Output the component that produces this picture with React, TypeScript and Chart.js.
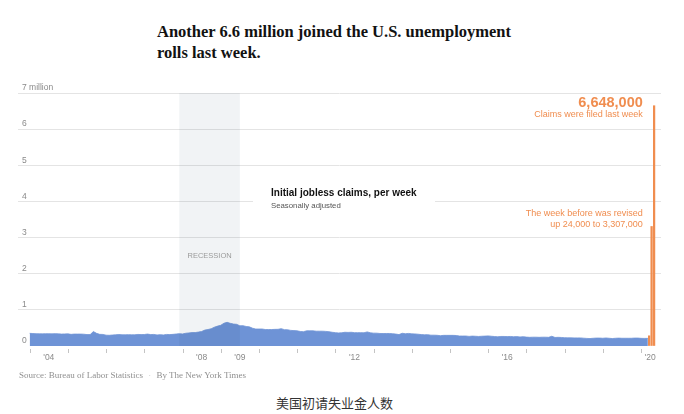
import React, { useEffect, useRef } from 'react';
import { Chart, registerables } from 'chart.js';

Chart.register(...registerables);

// ---- Data (initial jobless claims, thousands, monthly, seasonally adjusted) ----
const firstYear = 2004;
const claims2004 = [350, 345, 340, 338, 336, 340, 340, 336, 342, 336, 330, 334];
const claims2005 = [336, 322, 330, 330, 330, 326, 316, 316, 400, 350, 322, 320];
const claims2006 = [300, 296, 304, 310, 318, 310, 310, 314, 310, 310, 320, 316];
const claims2007 = [318, 330, 316, 320, 306, 314, 306, 320, 316, 322, 332, 342];
const claims2008 = [334, 352, 362, 372, 372, 386, 402, 440, 456, 478, 520, 550];
const claims2009 = [572, 630, 655, 628, 608, 600, 560, 562, 540, 530, 492, 470];
const claims2010 = [470, 470, 456, 456, 456, 460, 462, 480, 452, 450, 432, 426];
const claims2011 = [420, 402, 396, 420, 420, 420, 410, 410, 410, 404, 396, 380];
const claims2012 = [370, 362, 366, 380, 376, 380, 370, 370, 370, 366, 390, 366];
const claims2013 = [356, 355, 346, 345, 346, 346, 340, 330, 316, 352, 340, 348];
const claims2014 = [336, 334, 326, 316, 310, 314, 300, 300, 296, 286, 294, 294];
const claims2015 = [294, 294, 290, 276, 276, 276, 266, 274, 270, 264, 270, 274];
const claims2016 = [280, 270, 262, 256, 264, 264, 260, 264, 256, 260, 250, 258];
const claims2017 = [246, 240, 244, 244, 240, 244, 244, 240, 270, 236, 240, 236];
const claims2018 = [230, 226, 226, 224, 224, 224, 216, 210, 206, 214, 220, 220];
const claims2019 = [214, 222, 214, 206, 214, 218, 214, 214, 214, 214, 220, 220];
const claims2020 = [212, 210, 211];
const yearlyClaims = [
  claims2004, claims2005, claims2006, claims2007, claims2008, claims2009, claims2010,
  claims2011, claims2012, claims2013, claims2014, claims2015, claims2016, claims2017,
  claims2018, claims2019, claims2020,
];
// last blue value is the week of March 7, 2020
const lastBlueDate = 2020 + 66 / 366;

// latest weeks (highlighted)
const orangeWeeks = ['Mar 14', 'Mar 21', 'Mar 28'];
const orangeClaims = [282000, 3307000, 6648000];

const recession = [2007 + 11 / 12, 2009 + 6 / 12];

const yTicks = [0, 1, 2, 3, 4, 5, 6, 7];
const xTickYears = [2004, 2005, 2006, 2007, 2008, 2009, 2010, 2011, 2012, 2013, 2014, 2015, 2016, 2017, 2018, 2019, 2020];
const xLabels = ["'04", "'08", "'09", "'12", "'16", "'20"];
const xLabelAt = [2004.5, 2008.5, 2009.5, 2012.5, 2016.5, 2020.24];

const BLUE = '#6e93d6';
const ORANGE = '#f08d4f';
const SANS = '"Liberation Sans", Arial, sans-serif';

function buildBlue() {
  const pts: { x: number; y: number }[] = [];
  yearlyClaims.forEach((arr, yi) => {
    arr.forEach((v, m) => {
      const isLast = yi === yearlyClaims.length - 1 && m === arr.length - 1;
      pts.push({ x: isLast ? lastBlueDate : firstYear + yi + m / 12, y: v * 1000 });
    });
  });
  return pts;
}

const overlay = {
  id: 'overlay',
  afterDatasetsDraw(chart: any) {
    const { ctx, scales, chartArea } = chart;
    const x = scales.x, y = scales.y, xw = scales.xw;
    ctx.save();
    // recession band
    const x0 = x.getPixelForValue(recession[0]);
    const x1 = x.getPixelForValue(recession[1]);
    const yTop = y.getPixelForValue(7e6);
    const yBot = y.getPixelForValue(0);
    ctx.fillStyle = 'rgba(25,45,85,0.06)';
    ctx.fillRect(x0, yTop, x1 - x0, yBot - yTop);
    ctx.fillStyle = '#9a9a9a';
    ctx.font = `7.5px ${SANS}`;
    ctx.textAlign = 'center';
    ctx.textBaseline = 'middle';
    ctx.fillText('RECESSION', (x0 + x1) / 2, y.getPixelForValue(2.5e6));

    // x tick marks
    ctx.strokeStyle = '#c4c4c4';
    ctx.lineWidth = 1;
    xTickYears.forEach((yr) => {
      const px = Math.round(x.getPixelForValue(yr)) + 0.5;
      ctx.beginPath();
      ctx.moveTo(px, chartArea.bottom + 3);
      ctx.lineTo(px, chartArea.bottom + 7);
      ctx.stroke();
    });
    // x labels
    ctx.fillStyle = '#8a8a8a';
    ctx.font = `8.5px ${SANS}`;
    xLabels.forEach((t, i) => {
      ctx.fillText(t, x.getPixelForValue(xLabelAt[i]), chartArea.bottom + 12);
    });

    // series label with white box
    const y4 = y.getPixelForValue(4e6);
    ctx.fillStyle = '#ffffff';
    ctx.fillRect(253, y4 - 16, 182, 26);
    ctx.textAlign = 'left';
    ctx.fillStyle = '#121212';
    ctx.font = `bold 10px ${SANS}`;
    ctx.fillText('Initial jobless claims, per week', 271, y4 - 8);
    ctx.fillStyle = '#555555';
    ctx.font = `7.8px ${SANS}`;
    ctx.fillText('Seasonally adjusted', 271, y4 + 4);

    // orange annotations
    const ax = xw.getPixelForValue(2) - 10.5;
    const yLast = y.getPixelForValue(orangeClaims[2]);
    const yPrev = y.getPixelForValue(orangeClaims[1]);
    ctx.textAlign = 'right';
    ctx.fillStyle = ORANGE;
    ctx.font = `bold 14.5px ${SANS}`;
    ctx.fillText('6,648,000', ax, yLast - 3);
    ctx.font = `9px ${SANS}`;
    ctx.fillText('Claims were filed last week', ax, yLast + 8.5);
    ctx.fillText('The week before was revised', ax, yPrev - 12.5);
    ctx.fillText('up 24,000 to 3,307,000', ax, yPrev - 2);
    ctx.restore();
  },
};

function ClaimsChart() {
  const ref = useRef<HTMLCanvasElement>(null);
  useEffect(() => {
    if (!ref.current) return;
    const chart = new Chart(ref.current, {
      type: 'bar',
      data: {
        datasets: [
          {
            type: 'line',
            label: 'Initial claims',
            data: buildBlue(),
            xAxisID: 'x',
            yAxisID: 'y',
            borderColor: BLUE,
            borderWidth: 0.8,
            backgroundColor: BLUE,
            fill: 'origin',
            pointRadius: 0,
            tension: 0,
          } as any,
          {
            type: 'bar',
            label: 'Latest weeks',
            data: orangeClaims.map((v, i) => ({ x: i, y: v })),
            xAxisID: 'xw',
            yAxisID: 'y',
            backgroundColor: ORANGE,
            barThickness: 1.6,
          } as any,
        ],
      },
      options: {
        responsive: false,
        animation: false,
        events: [],
        layout: { padding: { left: 18, right: 23, top: 13, bottom: 24 } },
        plugins: { legend: { display: false }, tooltip: { enabled: false } },
        scales: {
          x: {
            type: 'linear',
            display: false,
            offset: false,
            min: 2003.694,
            max: 2020.524,
          },
          xw: {
            type: 'linear',
            display: false,
            offset: false,
            min: -252.12,
            max: 5.08,
          },
          y: {
            type: 'linear',
            min: 0,
            max: 7e6,
            afterFit: (s: any) => { s.width = 0; },
            afterBuildTicks: (s: any) => { s.ticks = yTicks.map((v) => ({ value: v * 1e6 })); },
            border: { display: false },
            grid: {
              drawTicks: false,
              color: (c: any) => (c.tick && c.tick.value === 0 ? 'rgba(0,0,0,0)' : '#e4e4e4'),
              lineWidth: 1,
            },
            ticks: {
              mirror: true,
              padding: 4,
              labelOffset: -5,
              color: '#8a8a8a',
              font: { family: SANS, size: 8.5 },
              callback: (v: any) => (v === 7e6 ? '7 million' : String(v / 1e6)),
            },
          },
        },
      },
      plugins: [overlay],
    });
    return () => chart.destroy();
  }, []);
  return (
    <canvas
      ref={ref}
      width={684}
      height={290}
      style={{ position: 'absolute', left: 0, top: 80, width: 684, height: 290 }}
    />
  );
}

export default function App() {
  return (
    <div style={{ position: 'absolute', left: 0, top: 0, width: 684, height: 414, background: '#fff', overflow: 'hidden' }}>
      <div
        style={{
          position: 'absolute', left: 157, top: 21, width: 420,
          fontFamily: '"Liberation Serif", "Times New Roman", serif', fontWeight: 'bold',
          fontSize: 16.5, lineHeight: '21px', color: '#121212',
        }}
      >
        Another 6.6 million joined the U.S. unemployment<br />rolls last week.
      </div>
      <ClaimsChart />
      <div
        style={{
          position: 'absolute', left: 19, top: 369, whiteSpace: 'nowrap',
          fontFamily: '"Liberation Serif", "Times New Roman", serif', fontSize: 9, lineHeight: '12px', color: '#8f8f8f',
        }}
      >
        Source: Bureau of Labor Statistics <span style={{ color: '#c8c8c8', margin: '0 3px' }}>·</span> By The New York Times
      </div>
      <div
        style={{
          position: 'absolute', left: 276, top: 394, whiteSpace: 'nowrap',
          fontFamily: '"Noto Sans CJK SC", sans-serif', fontSize: 13, lineHeight: '17px', color: '#333',
        }}
      >
        美国初请失业金人数
      </div>
    </div>
  );
}
